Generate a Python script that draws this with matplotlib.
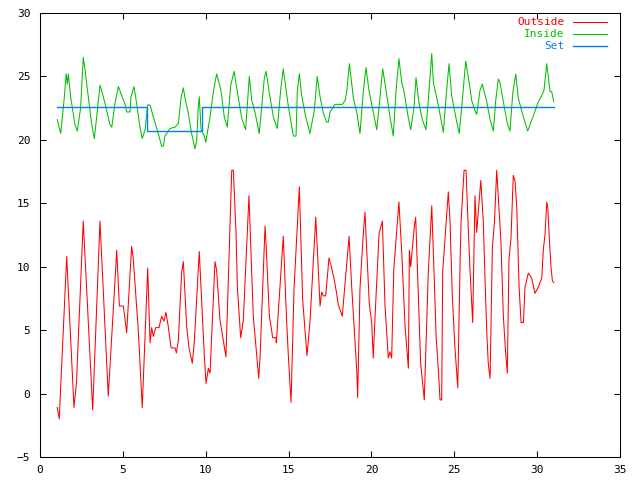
import matplotlib
matplotlib.use("Agg")
import matplotlib.pyplot as plt

# ---------------- data ----------------
outside_x = [1.04, 1.16, 1.61, 2.05, 2.20, 2.61, 3.18, 3.62, 4.12, 4.63, 4.79, 5.03, 5.23, 5.53,
             5.63, 5.93, 6.17, 6.50, 6.64, 6.74, 6.84, 6.98, 7.18, 7.34, 7.48, 7.60, 7.74, 7.91,
             8.15, 8.23, 8.35, 8.55, 8.65, 8.85, 8.99, 9.19, 9.31, 9.61, 9.92, 10.02, 10.16, 10.26,
             10.56, 10.66, 10.86, 11.12, 11.22, 11.57, 11.67, 11.83, 11.91, 12.11, 12.27, 12.61,
             12.87, 13.20, 13.28, 13.58, 13.64, 13.84, 13.92, 14.04, 14.24, 14.26, 14.68, 14.89,
             14.99, 15.15, 15.33, 15.65, 15.85, 16.11, 16.29, 16.64, 16.90, 17.00, 17.10, 17.24,
             17.30, 17.44, 17.60, 17.76, 17.90, 18.00, 18.24, 18.65, 18.81, 19.11, 19.17, 19.31,
             19.51, 19.61, 19.87, 20.02, 20.11, 20.22, 20.46, 20.66, 20.82, 21.02, 21.12, 21.22,
             21.35, 21.66, 21.83, 22.03, 22.23, 22.29, 22.37, 22.59, 22.67, 22.83, 22.97, 23.09,
             23.19, 23.43, 23.64, 23.80, 23.90, 24.04, 24.14, 24.24, 24.30, 24.64, 24.74, 24.88,
             25.04, 25.21, 25.35, 25.41, 25.59, 25.71, 25.85, 25.95, 26.11, 26.25, 26.35, 26.60,
             26.75, 26.85, 26.96, 27.05, 27.16, 27.30, 27.42, 27.56, 27.82, 27.96, 28.10, 28.20,
             28.30, 28.42, 28.56, 28.66, 28.77, 28.91, 29.03, 29.17, 29.27, 29.47, 29.67, 29.87,
             30.07, 30.28, 30.37, 30.48, 30.58, 30.64, 30.72, 30.84, 30.92, 31.00]
outside_y = [-1.1, -2.0, 10.8, -1.1, 0.85, 13.6, -1.3, 13.6, -0.2, 11.3, 6.9, 6.9, 4.8, 11.6,
             10.6, 5.0, -1.1, 9.9, 4.0, 5.2, 4.5, 5.2, 5.2, 6.1, 5.7, 6.4, 5.3, 3.6,
             3.6, 3.2, 4.2, 9.6, 10.4, 5.3, 3.6, 2.4, 4.0, 11.2, 2.9, 0.8, 2.0, 1.6,
             10.4, 9.7, 5.8, 3.7, 2.9, 17.6, 17.6, 12.6, 8.4, 4.4, 5.8, 15.6,
             6.1, 1.2, 2.9, 13.2, 11.85, 6.1, 5.5, 4.4, 4.4, 4.0, 12.4, 5.5,
             2.9, -0.7, 8.3, 16.3, 7.4, 3.0, 5.6, 13.9, 6.9, 8.0, 7.7, 7.7,
             8.6, 10.7, 9.9, 8.95, 7.9, 7.0, 6.1, 12.4, 8.4, 1.9, -0.3, 8.3,
             12.6, 14.3, 7.1, 5.5, 2.8, 6.1, 12.6, 13.6, 6.9, 2.8, 3.3, 2.8,
             9.8, 15.1, 11.1, 5.3, 2.0, 11.3, 10.0, 13.2, 13.9, 7.9, 2.4, 0.85,
             -0.5, 9.5, 14.8, 8.7, 4.6, 1.8, -0.5, -0.5, 9.6, 15.9, 13.7, 7.7,
             3.6, 0.45, 10.3, 13.6, 17.6, 17.6, 12.8, 9.7, 5.6, 15.6, 12.7, 16.8,
             13.6, 9.2, 4.8, 2.4, 1.2, 11.6, 13.4, 17.6, 11.85, 6.1, 3.2, 1.6,
             10.6, 12.2, 17.2, 16.8, 14.7, 8.4, 5.6, 5.6, 8.4, 9.5, 9.1, 7.9,
             8.4, 9.1, 11.3, 12.6, 15.1, 14.7, 12.6, 9.9, 8.9, 8.75]

inside_x = [1.04, 1.25, 1.45, 1.58, 1.65, 1.71, 1.85, 2.11, 2.25, 2.45, 2.61, 2.72, 3.06, 3.18,
            3.28, 3.48, 3.62, 3.72, 3.92, 4.22, 4.33, 4.53, 4.73, 4.87, 5.13, 5.23, 5.43, 5.49,
            5.67, 5.83, 6.03, 6.17, 6.34, 6.50, 6.64, 6.84, 7.14, 7.34, 7.44, 7.54, 7.85, 8.15,
            8.35, 8.51, 8.65, 8.75, 8.95, 9.15, 9.35, 9.46, 9.55, 9.61, 9.72, 9.92, 10.00, 10.26,
            10.46, 10.66, 10.92, 11.12, 11.30, 11.51, 11.71, 11.87, 12.17, 12.41, 12.63, 12.78,
            12.97, 13.23, 13.38, 13.54, 13.64, 13.84, 14.08, 14.32, 14.52, 14.68, 14.99, 15.15,
            15.29, 15.45, 15.53, 15.65, 15.79, 16.05, 16.20, 16.29, 16.55, 16.73, 16.90, 17.10,
            17.30, 17.40, 17.50, 17.70, 17.80, 18.24, 18.41, 18.51, 18.67, 18.91, 19.11, 19.31,
            19.51, 19.67, 19.85, 20.11, 20.32, 20.46, 20.68, 20.86, 21.12, 21.32, 21.48, 21.66,
            21.83, 21.97, 22.23, 22.37, 22.57, 22.69, 22.89, 23.07, 23.29, 23.43, 23.64, 23.74,
            24.04, 24.34, 24.50, 24.68, 24.84, 25.15, 25.30, 25.51, 25.69, 25.91, 26.05, 26.25,
            26.35, 26.55, 26.69, 26.96, 27.16, 27.36, 27.50, 27.66, 27.76, 27.96, 28.20, 28.36,
            28.53, 28.71, 28.86, 29.17, 29.43, 29.77, 30.07, 30.28, 30.41, 30.58, 30.78, 30.88,
            31.00]
inside_y = [21.6, 20.5, 23.1, 25.2, 24.4, 25.2, 23.4, 21.2, 20.7, 22.5, 26.5, 25.5, 21.8, 20.8,
            20.1, 22.6, 24.3, 23.9, 22.9, 21.2, 21.0, 22.9, 24.2, 23.7, 22.8, 22.2, 22.2, 23.4,
            24.2, 22.9, 21.0, 20.1, 20.8, 22.75, 22.75, 21.8, 20.5, 19.5, 19.5, 20.3, 20.9, 21.0,
            21.3, 23.3, 24.1, 23.3, 22.1, 20.5, 19.3, 20.0, 22.6, 23.4, 20.8, 20.3, 19.8, 21.8,
            23.8, 25.2, 23.9, 21.8, 21.0, 24.3, 25.4, 24.1, 21.7, 20.8, 25.0, 23.1,
            22.2, 20.5, 22.6, 24.9, 25.4, 23.7, 21.8, 20.9, 23.9, 25.6, 22.6, 21.4,
            20.3, 20.3, 23.9, 25.2, 23.5, 21.7, 21.0, 20.5, 22.3, 25.0, 23.4, 22.1,
            21.4, 21.4, 22.2, 22.6, 22.8, 22.8, 23.1, 23.8, 26.0, 23.3, 22.2, 20.5,
            23.8, 25.7, 23.9, 22.2, 20.8, 22.6, 25.6, 24.1, 21.8, 20.3, 23.8, 26.4,
            24.5, 23.8, 21.7, 20.8, 22.6, 24.9, 22.7, 21.6, 20.8, 23.1, 26.8, 24.5,
            22.7, 20.6, 23.3, 26.0, 23.5, 21.4, 20.5, 23.5, 26.2, 24.4, 23.1, 22.3,
            22.0, 23.9, 24.4, 23.0, 21.6, 20.7, 23.1, 24.8, 24.5, 23.0, 21.3, 20.7,
            23.7, 25.2, 23.3, 21.8, 20.7, 21.9, 23.0, 23.5, 23.9, 26.0, 23.8, 23.8,
            23.0]

set_x = [1.04, 6.44, 9.79, 31.00]
set_y = [22.6, 20.7, 22.6, 22.6]

series_labels = ["Outside", "Inside", "Set"]
series_colors = ["#ff0000", "#00c000", "#0080ff"]

x_ticks = [0, 5, 10, 15, 20, 25, 30, 35]
y_ticks = [-5, 0, 5, 10, 15, 20, 25, 30]

# ---------------- plot ----------------
plt.rcParams["font.family"] = ["DejaVu Sans Mono"]
fig = plt.figure(figsize=(6.4, 4.8), dpi=100)
ax = fig.add_axes([40 / 640, 23 / 480, 580 / 640, 444 / 480])

lw = 0.75
lw_set = 1.0
ax.plot(outside_x, outside_y, color=series_colors[0], lw=lw)
ax.plot(inside_x, inside_y, color=series_colors[1], lw=lw)
ax.plot(set_x, set_y, color=series_colors[2], lw=lw_set, drawstyle="steps-post")

ax.set_xlim(0, 35)
ax.set_ylim(-5, 30)
ax.set_xticks(x_ticks)
ax.set_yticks(y_ticks)
ax.tick_params(direction="in", length=4, width=0.75, top=True, right=True,
               labelsize=8, colors="black")
ax.tick_params(axis="x", pad=6)
ax.tick_params(axis="y", pad=7)
for s in ax.spines.values():
    s.set_linewidth(0.75)
    s.set_color("black")

# gnuplot-like key (right-aligned text, sample line to the right)
rows = [0.979, 0.952, 0.926]
widths = [lw, lw, lw_set]
for lab, col, ry, w in zip(series_labels, series_colors, rows, widths):
    ax.text(0.905, ry, lab, transform=ax.transAxes, ha="right", va="center",
            color=col, fontsize=8)
    ax.plot([0.919, 0.978], [ry, ry], transform=ax.transAxes, color=col,
            lw=w, clip_on=False)

fig.savefig("out.png", dpi=100)
